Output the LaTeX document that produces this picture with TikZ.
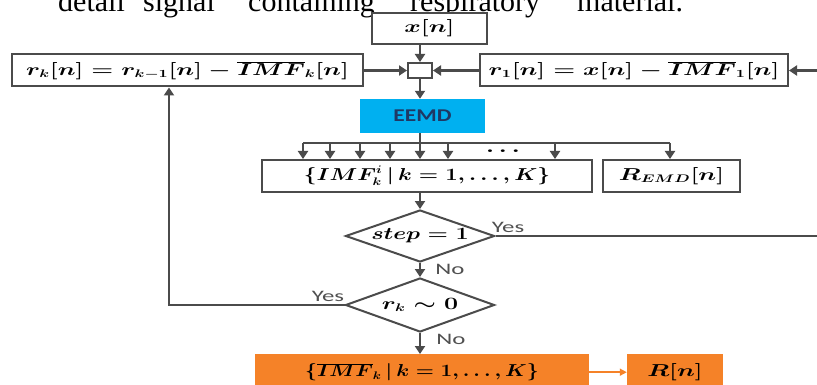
\documentclass[tikz,border=0pt]{standalone}
\usepackage{fontspec}
\usepackage{graphicx}
\usetikzlibrary{shapes.geometric,arrows.meta}
\newfontfamily\bodyserif{Liberation Serif}
\newfontfamily\labsans{Carlito}
\definecolor{linegray}{RGB}{75,75,75}
\definecolor{eemdblue}{RGB}{0,176,240}
\definecolor{eemdtext}{RGB}{31,56,100}
\definecolor{orangebox}{RGB}{245,130,40}
\definecolor{labgray}{RGB}{80,80,80}
\newcommand{\mtext}[2][1.45]{\scalebox{#1}[1]{\fontsize{16}{18}\selectfont\boldmath$#2$}}
\begin{document}
\begin{tikzpicture}[x=1pt,y=-1pt,
 box/.style={draw=linegray, line width=2pt, rectangle, inner sep=0pt, fill=white},
 dec/.style={draw=linegray, line width=2pt, diamond, aspect=2.8, inner sep=0pt},
 arr/.style={draw=linegray, line width=2.2pt, -{Triangle[length=8pt,width=10pt]}},
 ln/.style={draw=linegray, line width=2.2pt},
 lab/.style={text=labgray, font=\labsans\fontsize{16}{18}\selectfont, inner sep=0pt},
 word/.style={font=\bodyserif\fontsize{30}{32}\selectfont, anchor=base west, inner sep=0pt}]
\useasboundingbox[fill=white] (0,0) rectangle (817,385);
% cropped body text at the top
\node[word] (w1) at (58,12) {detail};
\node[word] (w2) at (143,12) {signal};
\node[word] (w3) at (248,12) {containing};
\node[word] (w4) at (410,12) {respiratory};
\node[word] (w5) at (577,12) {material.};
% boxes
\node[box, minimum width=115, minimum height=31] (xn) at (429.5,28.5) {\mtext{x[n]}};
\node[box, minimum width=24, minimum height=15] (sum) at (420,70.5) {};
\node[box, minimum width=351, minimum height=32] (lbox) at (187.5,70.5) {\mtext{r_k[n] = r_{k-1}[n] - \overline{IMF}_k[n]}};
\node[box, minimum width=308, minimum height=32] (rbox) at (634,70.5) {\mtext{r_1[n] = x[n] - \overline{IMF}_1[n]}};
\node[fill=eemdblue, minimum width=125, minimum height=34, inner sep=0pt] (eemd) at (422.5,116) {\scalebox{1.3}[1]{\labsans\bfseries\fontsize{18}{20}\selectfont\color{eemdtext}EEMD}};
\node[box, minimum width=330, minimum height=32] (imf) at (427,176) {\mtext[1.28]{\{IMF_k^{i}\,\big|\,k = 1, \ldots, K\}}};
\node[box, minimum width=137, minimum height=32] (remd) at (671.5,176) {\mtext{R_{EMD}[n]}};
\node[dec, minimum width=149, minimum height=52] (d1) at (420,236) {\mtext[1.35]{step = 1}};
\node[dec, minimum width=149, minimum height=54] (d2) at (420,305) {\mtext{r_k \sim 0}};
\node[fill=orangebox, minimum width=334, minimum height=36, anchor=north, inner sep=0pt] (o1) at (422,354) {\mtext[1.2]{\{\overline{IMF}_k\,\big|\,k = 1, \ldots, K\}}};
\node[fill=orangebox, minimum width=96, minimum height=36, anchor=north, inner sep=0pt] (o2) at (675,354) {\mtext{R[n]}};
% bus from EEMD
\coordinate (busL) at (303,143);
\coordinate (busR) at (670,143);
\coordinate (busC) at (420,143);
\draw[ln] (eemd.south -| busC) -- (busC);
\draw[ln] (busL) -- (busR);
\foreach \bx [count=\i] in {303,330,360,390,420,448,555} {
  \coordinate (b\i) at (\bx,143);
  \draw[arr] (b\i) -- (b\i |- imf.north);
}
\draw[arr] (busR) -- (busR |- remd.north);
\node[inner sep=0pt] (dots) at (503,151) {\mtext{\cdots}};
% connectors
\draw[arr] (sum.north |- xn.south) -- (sum.north);
\draw[arr] (lbox.east) -- (sum.west);
\draw[arr] (rbox.west) -- (sum.east);
\draw[arr] (sum.south) -- (sum.south |- eemd.north);
\draw[arr] (d1.north |- imf.south) -- (d1.north);
\draw[arr] (d1.south) -- (d2.north);
\draw[arr] (d2.south) -- (d2.south |- o1.north);
\coordinate (offR) at (845,150);
\draw[arr] (d1.east) -- (d1.east -| offR) -- (offR |- rbox.east) -- (rbox.east);
\coordinate (loopL) at (169,305);
\draw[arr] (d2.west) -- (loopL) -- (loopL |- lbox.south);
\draw[orangebox, line width=1.5pt, -{Triangle[length=7pt,width=7pt]}] (o1.east) -- (o2.west);
% labels
\node[lab] (yes1) at (508,227) {\scalebox{1.55}[1]{Yes}};
\node[lab] (no1) at (450,269) {\scalebox{1.55}[1]{No}};
\node[lab] (yes2) at (328,296) {\scalebox{1.55}[1]{Yes}};
\node[lab] (no2) at (451,339) {\scalebox{1.55}[1]{No}};
\end{tikzpicture}
\end{document}
